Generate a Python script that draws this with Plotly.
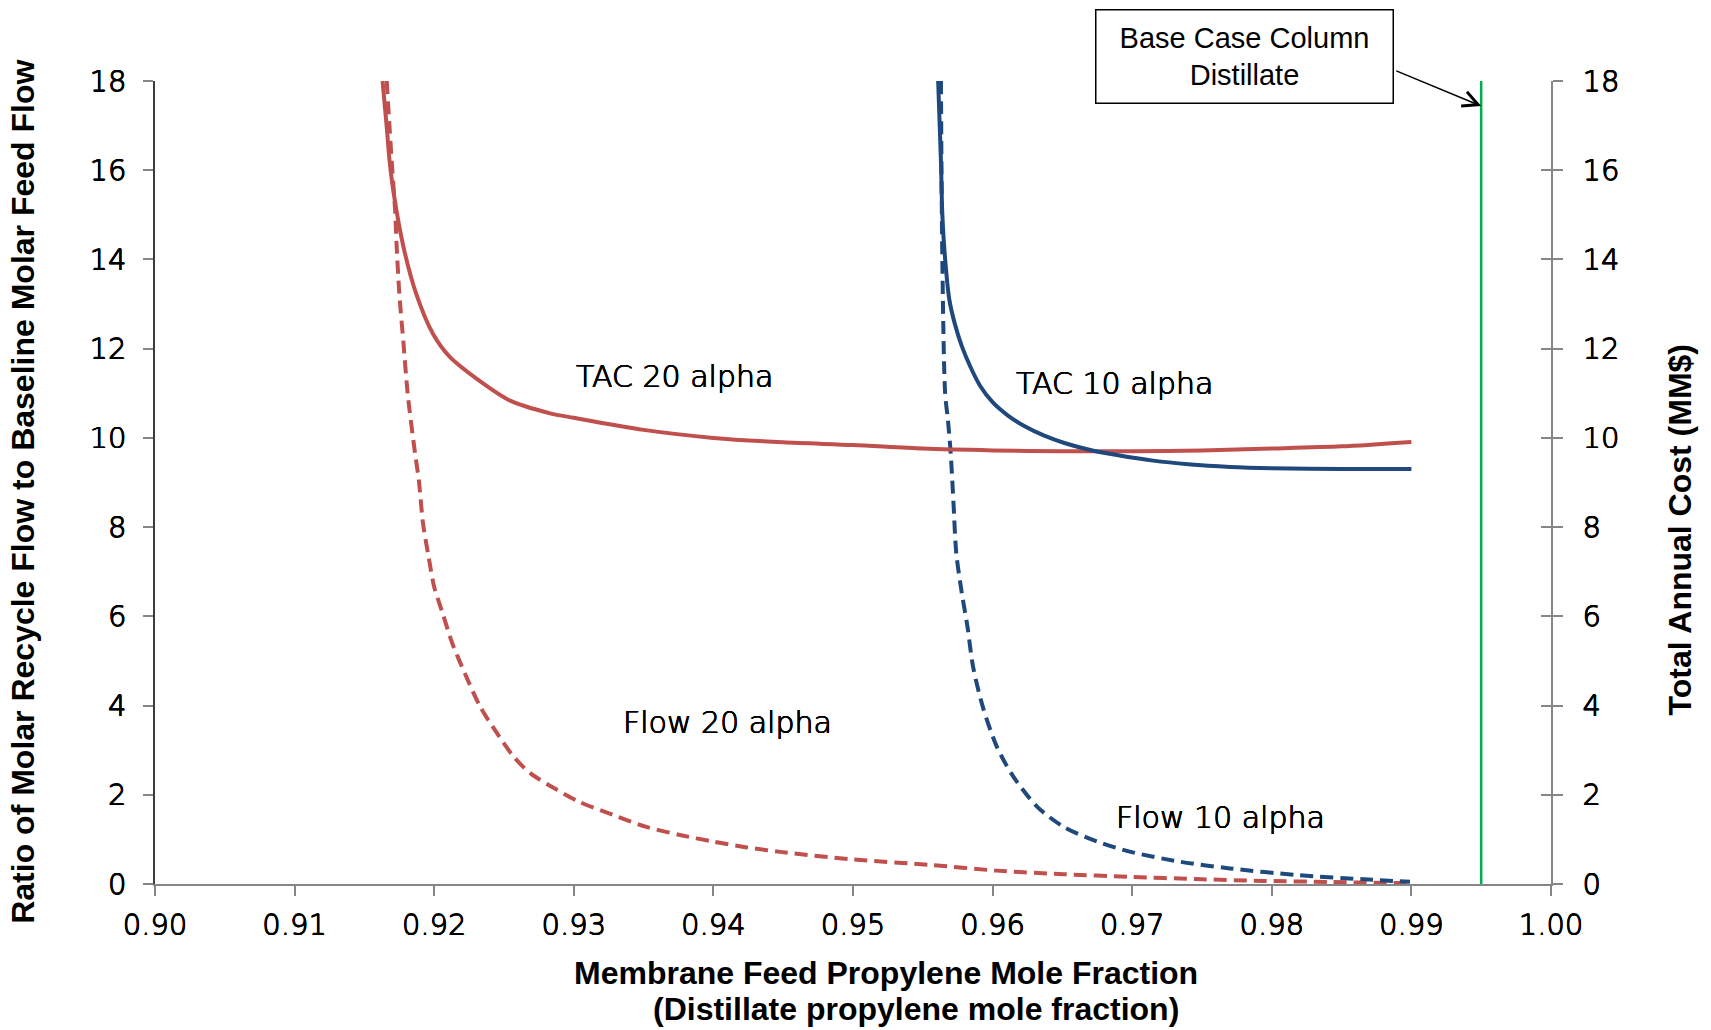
import plotly.graph_objects as go

# ---------------- data ----------------
tac20_x = [0.9163, 0.9166, 0.9168, 0.9171, 0.9178, 0.9187, 0.9199, 0.9211, 0.9235, 0.9254,
           0.9283, 0.9300, 0.9350, 0.9400, 0.9450, 0.9500, 0.9550, 0.9600, 0.9650, 0.9700,
           0.9750, 0.9800, 0.9850, 0.9900]
tac20_y = [18.0, 16.97, 16.22, 15.48, 14.28, 13.24, 12.34, 11.82, 11.22, 10.84,
           10.55, 10.45, 10.18, 10.00, 9.90, 9.84, 9.76, 9.72, 9.70, 9.70,
           9.72, 9.76, 9.81, 9.91]

tac10_x = [0.9561, 0.9563, 0.9564, 0.9566, 0.9569, 0.9573, 0.9578, 0.9584, 0.9591, 0.9600,
           0.9611, 0.9623, 0.9637, 0.9652, 0.9670, 0.9690, 0.9715, 0.9740, 0.9770, 0.9800,
           0.9850, 0.9900]
tac10_y = [18.0, 16.2, 15.0, 14.0, 13.1, 12.55, 12.05, 11.6, 11.17, 10.80,
           10.50, 10.26, 10.05, 9.88, 9.73, 9.61, 9.49, 9.41, 9.35, 9.32,
           9.30, 9.30]

flow20_x = [0.9166, 0.9168, 0.9170, 0.9172, 0.9173, 0.9175, 0.9178, 0.9181, 0.9186, 0.9189,
            0.9192, 0.9196, 0.9200, 0.9206, 0.9213, 0.9222, 0.9233, 0.9245, 0.9257, 0.9269,
            0.9288, 0.9304, 0.9328, 0.9352, 0.9376, 0.9400, 0.9424, 0.9448, 0.9500, 0.9555,
            0.9603, 0.9651, 0.9699, 0.9746, 0.9794, 0.9842, 0.9899]
flow20_y = [18.0, 16.97, 16.0, 15.1, 14.36, 13.24, 12.12, 10.99, 9.72, 9.05,
            8.08, 7.33, 6.66, 6.07, 5.39, 4.72, 3.97, 3.38, 2.85, 2.48,
            2.11, 1.84, 1.55, 1.28, 1.10, 0.95, 0.82, 0.72, 0.55, 0.43,
            0.30, 0.22, 0.16, 0.11, 0.07, 0.045, 0.015]

flow10_x = [0.9563, 0.9564, 0.9566, 0.9568, 0.9570, 0.9572, 0.9574, 0.9578, 0.9582, 0.9586,
            0.9593, 0.9603, 0.9615, 0.9632, 0.9651, 0.9675, 0.9699, 0.9734, 0.9770, 0.9818,
            0.9866, 0.9899]
flow10_y = [18.0, 13.98, 11.0, 10.40, 9.65, 8.53, 7.41, 6.51, 5.77, 4.87,
            3.97, 3.08, 2.40, 1.73, 1.28, 0.95, 0.72, 0.50, 0.35, 0.20,
            0.105, 0.05]

base_case_x = 0.995
x_ticks = [0.90, 0.91, 0.92, 0.93, 0.94, 0.95, 0.96, 0.97, 0.98, 0.99, 1.00]
y_ticks = [0, 2, 4, 6, 8, 10, 12, 14, 16, 18]

RED = "#C0504D"
BLUE = "#1F497D"
GREEN = "#00B050"
AXC = "#868686"
THICKEN = "0.45px 0 0 #000, -0.45px 0 0 #000, 0 0.45px 0 #000, 0 -0.45px 0 #000"
TICKFONT = dict(family="DejaVu Sans", size=29, color="#000000", weight=300, shadow=THICKEN)
LBLFONT = dict(family="DejaVu Sans", size=30, color="#000000", weight=300, shadow=THICKEN)
TITLEFONT = dict(family="Liberation Sans", size=32, color="#000000")

fig = go.Figure()

fig.add_trace(go.Scatter(x=flow20_x, y=flow20_y, mode="lines", yaxis="y",
                         line=dict(color=RED, width=4, dash="13px,7px", shape="spline", smoothing=0.8),
                         name="Flow 20 alpha"))
fig.add_trace(go.Scatter(x=flow10_x, y=flow10_y, mode="lines", yaxis="y",
                         line=dict(color=BLUE, width=4, dash="13px,7px", shape="spline", smoothing=0.8),
                         name="Flow 10 alpha"))
fig.add_trace(go.Scatter(x=tac20_x, y=tac20_y, mode="lines", yaxis="y2",
                         line=dict(color=RED, width=4, shape="spline", smoothing=0.8), name="TAC 20 alpha"))
fig.add_trace(go.Scatter(x=tac10_x, y=tac10_y, mode="lines", yaxis="y2",
                         line=dict(color=BLUE, width=4, shape="spline", smoothing=0.8), name="TAC 10 alpha"))
fig.add_trace(go.Scatter(x=[base_case_x, base_case_x], y=[0, 18], mode="lines", yaxis="y3",
                         line=dict(color=GREEN, width=2.5), name="Base case"))

axis_common = dict(showgrid=False, zeroline=False, showline=True, linewidth=1.5,
                   tickcolor=AXC, tickwidth=1.5, ticklen=10)

fig.update_layout(
    width=1711, height=1030,
    margin=dict(l=155, r=160, t=81, b=146),
    paper_bgcolor="white", plot_bgcolor="white",
    showlegend=False,
    xaxis=dict(range=[0.9, 1.0], tickvals=x_ticks, tickformat=".2f", ticks="outside",
               tickfont=TICKFONT, ticklabelstandoff=4, linecolor=AXC, **axis_common),
    yaxis=dict(range=[0, 18], tickvals=y_ticks, ticks="outside", tickfont=TICKFONT,
               ticklabelstandoff=11, linecolor="#3c3c3c", **axis_common),
    yaxis2=dict(range=[0, 18], tickvals=y_ticks, ticks="outside", overlaying="y", side="right",
                anchor="x", tickfont=TICKFONT, ticklabelstandoff=14, linecolor=AXC, **axis_common),
    yaxis3=dict(range=[0, 18], tickvals=y_ticks, ticks="inside", overlaying="y", side="right",
                anchor="x", showticklabels=False, linecolor=AXC, **axis_common),
)

def px_to_paper_x(px):
    return (px - 155.3) / 1395.4

def px_to_paper_y(py):
    return (884.0 - py) / 803.3

annotations = [
    dict(text="TAC 20 alpha", x=0.9372, y=11.38, xref="x", yref="y", showarrow=False, font=LBLFONT),
    dict(text="TAC 10 alpha", x=0.9687, y=11.23, xref="x", yref="y", showarrow=False, font=LBLFONT),
    dict(text="Flow 20 alpha", x=0.9410, y=3.63, xref="x", yref="y", showarrow=False, font=LBLFONT),
    dict(text="Flow 10 alpha", x=0.9763, y=1.48, xref="x", yref="y", showarrow=False, font=LBLFONT),
    # base case box
    dict(text="Base Case Column<br>Distillate", x=px_to_paper_x(1244.5), y=px_to_paper_y(56.5),
         xref="paper", yref="paper", xanchor="center", yanchor="middle",
         showarrow=False, font=dict(family="Liberation Sans", size=29, color="#000000"),
         bordercolor="#000000", borderwidth=1.5, borderpad=4, width=288, height=84,
         bgcolor="white", align="center"),
    # arrow
    dict(text="", x=base_case_x, y=17.44, xref="x", yref="y", ax=0.98881, ay=18.24,
         axref="x", ayref="y", showarrow=True, arrowhead=5, arrowsize=2.0, arrowwidth=1.5,
         arrowcolor="#000000", standoff=0),
    # axis titles
    dict(text="<b>Ratio of Molar Recycle Flow to Baseline Molar Feed Flow</b>",
         x=px_to_paper_x(24), y=px_to_paper_y(492), xanchor="center", yanchor="middle",
         xref="paper", yref="paper", textangle=-90, showarrow=False, font=TITLEFONT),
    dict(text="<b>Total Annual Cost (MM$)</b>",
         x=px_to_paper_x(1680), y=px_to_paper_y(529), xanchor="center", yanchor="middle",
         xref="paper", yref="paper", textangle=-90, showarrow=False, font=TITLEFONT),
    dict(text="<b>Membrane Feed Propylene Mole Fraction</b>",
         x=px_to_paper_x(886), y=px_to_paper_y(973), xanchor="center", yanchor="middle",
         xref="paper", yref="paper", showarrow=False, font=TITLEFONT),
    dict(text="<b>(Distillate propylene mole fraction)</b>",
         x=px_to_paper_x(916), y=px_to_paper_y(1009), xanchor="center", yanchor="middle",
         xref="paper", yref="paper", showarrow=False, font=TITLEFONT),
]
fig.update_layout(annotations=annotations)

fig.write_html("out.html")
